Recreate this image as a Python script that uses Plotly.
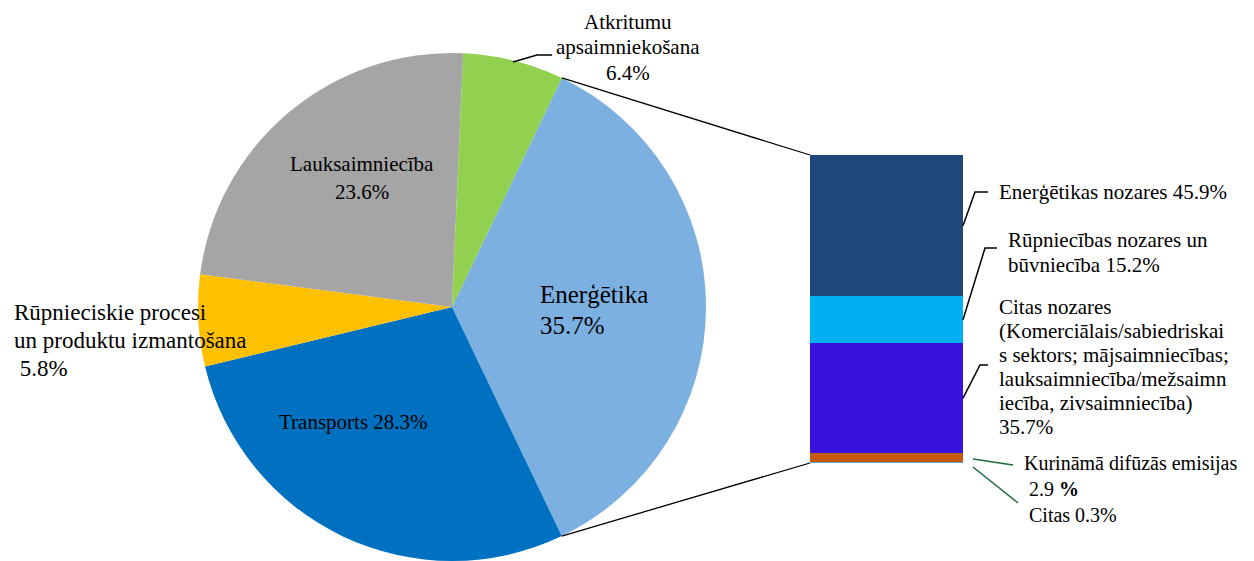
import math
import plotly.graph_objects as go

# pie: emissions by sector (%)
pie_labels = ["Enerģētika", "Transports", "Rūpnieciskie procesi un produktu izmantošana",
              "Lauksaimniecība", "Atkritumu apsaimniekošana"]
pie_values = [35.7, 28.3, 5.8, 23.6, 6.4]
pie_colors = ["#7CB0E0", "#0070C0", "#FFC000", "#A5A5A5", "#92D050"]

# bar: breakdown of Enerģētika (%), bottom to top
bar_labels = ["Citas", "Kurināmā difūzās emisijas", "Citas nozares",
              "Rūpniecības nozares un būvniecība", "Enerģētikas nozares"]
bar_values = [0.3, 2.9, 35.7, 15.2, 45.9]
bar_colors = ["#5BA3D0", "#C55A11", "#3912E0", "#00B0F0", "#1F497D"]

W, H = 1254, 561
FONT = "Liberation Serif, Times New Roman, serif"

# layout in pixels
cx, cy, r = 452, 307, 254
bx0, bx1, btop, bbot = 810, 963, 155, 463


def p(x, y):
    return x / W, 1 - y / H


fig = go.Figure()

total = sum(pie_values)
rot = 90 - 180 * pie_values[0] / total
fig.add_trace(go.Pie(
    labels=pie_labels, values=pie_values, sort=False, direction="clockwise",
    rotation=rot, textinfo="none", showlegend=False,
    marker=dict(colors=pie_colors, line=dict(width=0)),
    domain=dict(x=[(cx - r) / W, (cx + r) / W], y=[1 - (cy + r) / H, 1 - (cy - r) / H]),
))

for lab, val, col in zip(bar_labels, bar_values, bar_colors):
    fig.add_trace(go.Bar(x=[0], y=[val], name=lab, width=1, showlegend=False,
                         marker=dict(color=col, line=dict(width=0))))

btotal = sum(bar_values)
fig.update_layout(
    width=W, height=H, barmode="stack",
    margin=dict(l=0, r=0, t=0, b=0),
    paper_bgcolor="white", plot_bgcolor="white",
    xaxis=dict(domain=[bx0 / W, bx1 / W], range=[-0.5, 0.5], visible=False),
    yaxis=dict(domain=[1 - bbot / H, 1 - btop / H], range=[0, btotal], visible=False),
    font=dict(family=FONT, color="black"),
)


def yb(v):
    return bbot - (bbot - btop) * v / btotal


# connector lines pie -> bar
a0 = math.radians(rot)
a1 = math.radians(rot + 360 * pie_values[0] / total)
for a, yy in [(a0, yb(btotal)), (a1, yb(0))]:
    x0, y0 = p(cx + r * math.sin(a), cy - r * math.cos(a))
    x1, y1 = p(bx0, yy)
    fig.add_shape(type="line", xref="paper", yref="paper", x0=x0, y0=y0, x1=x1, y1=y1,
                  line=dict(color="black", width=1.3))


def path(pts, color="black"):
    d = "M " + " L ".join("%f,%f" % p(x, y) for x, y in pts)
    fig.add_shape(type="path", path=d, xref="paper", yref="paper",
                  line=dict(color=color, width=1.5))


cum = [sum(bar_values[:i]) + bar_values[i] / 2 for i in range(len(bar_values))]
path([(513, 62), (537, 55), (552, 55)])
path([(bx1, yb(cum[4])), (975, 192), (988, 192)])
path([(bx1, yb(cum[3])), (985, 248), (997, 248)])
path([(bx1, yb(cum[2])), (980, 365), (988, 365)])
path([(973, 459), (1013, 465)], "#1E6B3C")
path([(973, 467), (1018, 503)], "#1E6B3C")


def txt(lines, x, ys, size, anchor="left"):
    for line, y in zip(lines, ys):
        xx, yy = p(x, y)
        fig.add_annotation(text=line, x=xx, y=yy, xref="paper", yref="paper",
                           xanchor=anchor, yanchor="middle", align=anchor, showarrow=False,
                           font=dict(size=size, family=FONT, color="black"))


txt(["Atkritumu", "apsaimniekošana", "%.1f%%" % pie_values[4]], 628, [22, 47, 73], 21, "center")
txt([pie_labels[3], "%.1f%%" % pie_values[3]], 362, [164, 192], 21, "center")
txt([pie_labels[0], "%.1f%%" % pie_values[0]], 538, [294, 325], 25)
txt(["%s %.1f%%" % (pie_labels[1], pie_values[1])], 354, [422], 21, "center")
txt(["Rūpnieciskie procesi", "un produktu izmantošana", " %.1f%%" % pie_values[2]],
    12, [312, 340, 368], 23)

txt(["%s %.1f%%" % (bar_labels[4], bar_values[4])], 997, [192], 21)
txt(["Rūpniecības nozares un", "būvniecība %.1f%%" % bar_values[3]], 1006, [240, 265], 21)
txt(["Citas nozares", "(Komerciālais/sabiedriskai", "s sektors; mājsaimniecības;",
     "lauksaimniecība/mežsaimn", "iecība, zivsaimniecība)", "%.1f%%" % bar_values[2]],
    997, [307, 331, 355, 379, 403, 427], 21)
txt(["Kurināmā difūzās emisijas<br> %.1f <b>%%</b><br> Citas %.1f%%"
     % (bar_values[1], bar_values[0])], 1022, [489], 20)

fig.write_html("out.html", config={"displayModeBar": False},
               post_script="document.body.style.margin='0px';document.body.style.overflow='hidden';")
